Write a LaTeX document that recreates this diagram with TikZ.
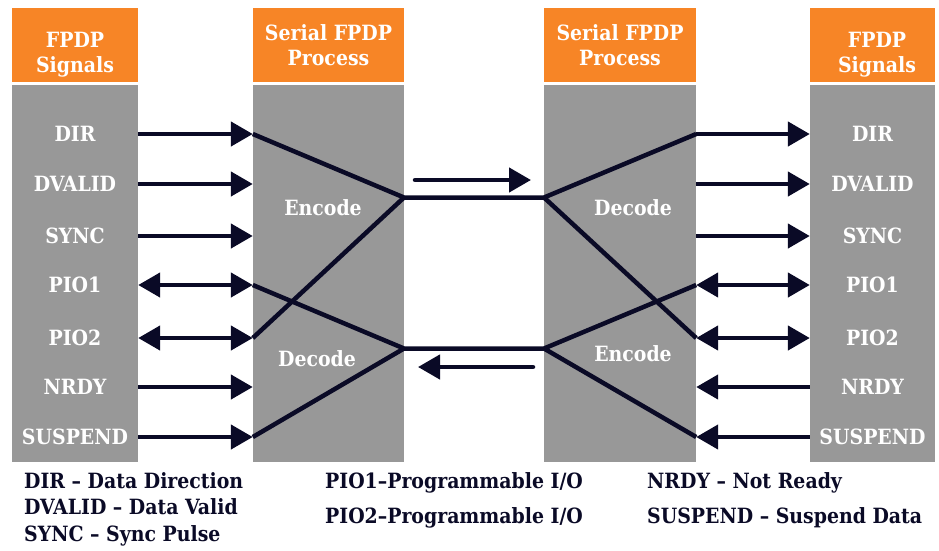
\documentclass[tikz,border=0pt]{standalone}
\usepackage{fontspec}
\setmainfont{DejaVu Serif Condensed}
\usepackage{tikz}
\usetikzlibrary{arrows.meta}
\usepackage{xcolor}
\definecolor{fporange}{RGB}{247,133,38}
\definecolor{fpgray}{RGB}{152,152,152}
\definecolor{fpnavy}{RGB}{10,10,38}

\tikzset{
  hdr/.style={fill=fporange, minimum height=74pt, inner sep=0pt},
  col/.style={fill=fpgray, minimum height=377pt, inner sep=0pt},
  htxt/.style={text=white, align=center, inner sep=0pt},
  sig/.style={text=white, text height=15.3pt, text depth=0pt, inner sep=0pt},
  wire/.style={draw=fpnavy, line width=4.5pt, line join=round},
  tip/.style={-{Triangle[length=22pt,width=24pt]}},
  tips/.style={{Triangle[length=22pt,width=24pt]}-{Triangle[length=22pt,width=24pt]}},
  lgd/.style={text=fpnavy, anchor=base west, inner sep=0pt}
}

\begin{document}
\begin{tikzpicture}[x=1pt,y=-1pt,font=\fontsize{21}{25}\selectfont\bfseries]
\useasboundingbox (0,0) rectangle (939,550);

% colonnes : en-tete orange + corps gris
\foreach \c/\x/\w in {sigL/75/126, procL/328.5/151, procR/620/152, sigR/872.5/125} {
    \node (hd-\c) at (\x,45) [hdr, minimum width=\w pt] {};
    \node (\c) at (\x,273.5) [col, minimum width=\w pt] {};
}
\node (tSigL) at (75,54.5) [htxt] {FPDP\\Signals};
\node (tProcL) at (328.5,45) [htxt] {Serial FPDP\\Process};
\node (tProcR) at (620,45) [htxt] {Serial FPDP\\Process};
\node (tSigR) at (877,54.5) [htxt] {FPDP\\Signals};

% signaux FPDP des deux cotes
\foreach \sg/\y in {DIR/134, DVALID/184, SYNC/236, PIO1/285, PIO2/338, NRDY/387, SUSPEND/437} {
    \node (l\sg) at (75,\y) [sig] {\sg};
    \node (r\sg) at (872.5,\y) [sig] {\sg};
}
\node (encL) at (323,208) [sig] {Encode};
\node (decL) at (317,359) [sig] {Decode};
\node (decR) at (633,208) [sig] {Decode};
\node (encR) at (633,354) [sig] {Encode};

% points de jonction et fleches du lien serie
\coordinate (jEncL) at (404,197.5);
\coordinate (jDecL) at (404,348.5);
\coordinate (jDecR) at (544,197.5);
\coordinate (jEncR) at (544,348.5);
\coordinate (fwdA) at (415,180);
\coordinate (fwdB) at (531,180);
\coordinate (bwdA) at (533,367);
\coordinate (bwdB) at (418,367);

% cote gauche
\foreach \sg in {DIR,DVALID,SYNC,NRDY,SUSPEND}
    \draw[wire,tip] (sigL.east |- l\sg) -- (procL.west |- l\sg);
\foreach \sg in {PIO1,PIO2}
    \draw[wire,tips] (sigL.east |- l\sg) -- (procL.west |- l\sg);

% cote droit
\foreach \sg in {DIR,DVALID,SYNC}
    \draw[wire,tip] (procR.east |- r\sg) -- (sigR.west |- r\sg);
\foreach \sg in {NRDY,SUSPEND}
    \draw[wire,tip] (sigR.west |- r\sg) -- (procR.east |- r\sg);
\foreach \sg in {PIO1,PIO2}
    \draw[wire,tips] (procR.east |- r\sg) -- (sigR.west |- r\sg);

% encodage / decodage
\draw[wire] (procL.west |- lDIR) -- (jEncL) -- (jDecR) -- (procR.east |- rDIR);
\draw[wire] (procL.west |- lPIO2) -- (jEncL);
\draw[wire] (jDecR) -- (procR.east |- rPIO2);
\draw[wire] (procL.west |- lPIO1) -- (jDecL) -- (jEncR) -- (procR.east |- rPIO1);
\draw[wire] (procL.west |- lSUSPEND) -- (jDecL);
\draw[wire] (jEncR) -- (procR.east |- rSUSPEND);
\draw[wire,tip,line cap=round] (fwdA) -- (fwdB);
\draw[wire,tip,line cap=round] (bwdA) -- (bwdB);

% legende
\node (kDIR) at (24,488) [lgd] {DIR – Data Direction};
\node (kDVALID) at (24,514) [lgd] {DVALID – Data Valid};
\node (kSYNC) at (24,541) [lgd] {SYNC – Sync Pulse};
\node (kPIO1) at (325,488) [lgd] {PIO1–Programmable I/O};
\node (kPIO2) at (325,523) [lgd] {PIO2–Programmable I/O};
\node (kNRDY) at (647,488) [lgd] {NRDY – Not Ready};
\node (kSUSPEND) at (647,523) [lgd] {SUSPEND – Suspend Data};
\end{tikzpicture}
\end{document}
